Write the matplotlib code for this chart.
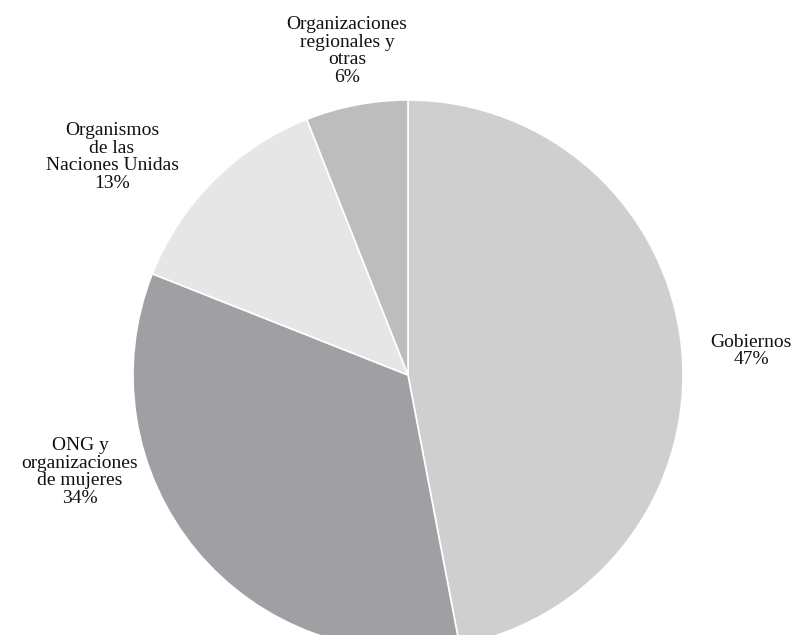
import matplotlib.pyplot as plt

# Data
labels = ['Gobiernos\n47%', 'ONG y\norganizaciones\nde mujeres\n34%',
          'Organismos\nde las\nNaciones Unidas\n13%',
          'Organizaciones\nregionales y\notras\n6%']
shares = [47, 34, 13, 6]
colors = ['#cfcfcf', '#a09fa3', '#e6e6e6', '#bdbdbd']

# label anchor points (pixels, origin top-left)
label_pos = [(751, 351), (80, 472), (112, 157), (347, 51)]

W, H = 799, 635
fig = plt.figure(figsize=(W / 100, H / 100), dpi=100, facecolor='white')
ax = fig.add_axes([0, 0, 1, 1])

ax.pie(shares, colors=colors, startangle=90, counterclock=False,
       center=(408, H - 375), radius=275,
       wedgeprops=dict(edgecolor='white', linewidth=1.2))

for text, (x, y) in zip(labels, label_pos):
    ax.text(x, H - y, text, ha='center', va='center', fontsize=14,
            family='Liberation Serif', linespacing=1.03, color='#111111')

ax.set_xlim(0, W)
ax.set_ylim(0, H)
ax.set_aspect('equal')
ax.axis('off')

fig.savefig('out.png', dpi=100, facecolor='white')
